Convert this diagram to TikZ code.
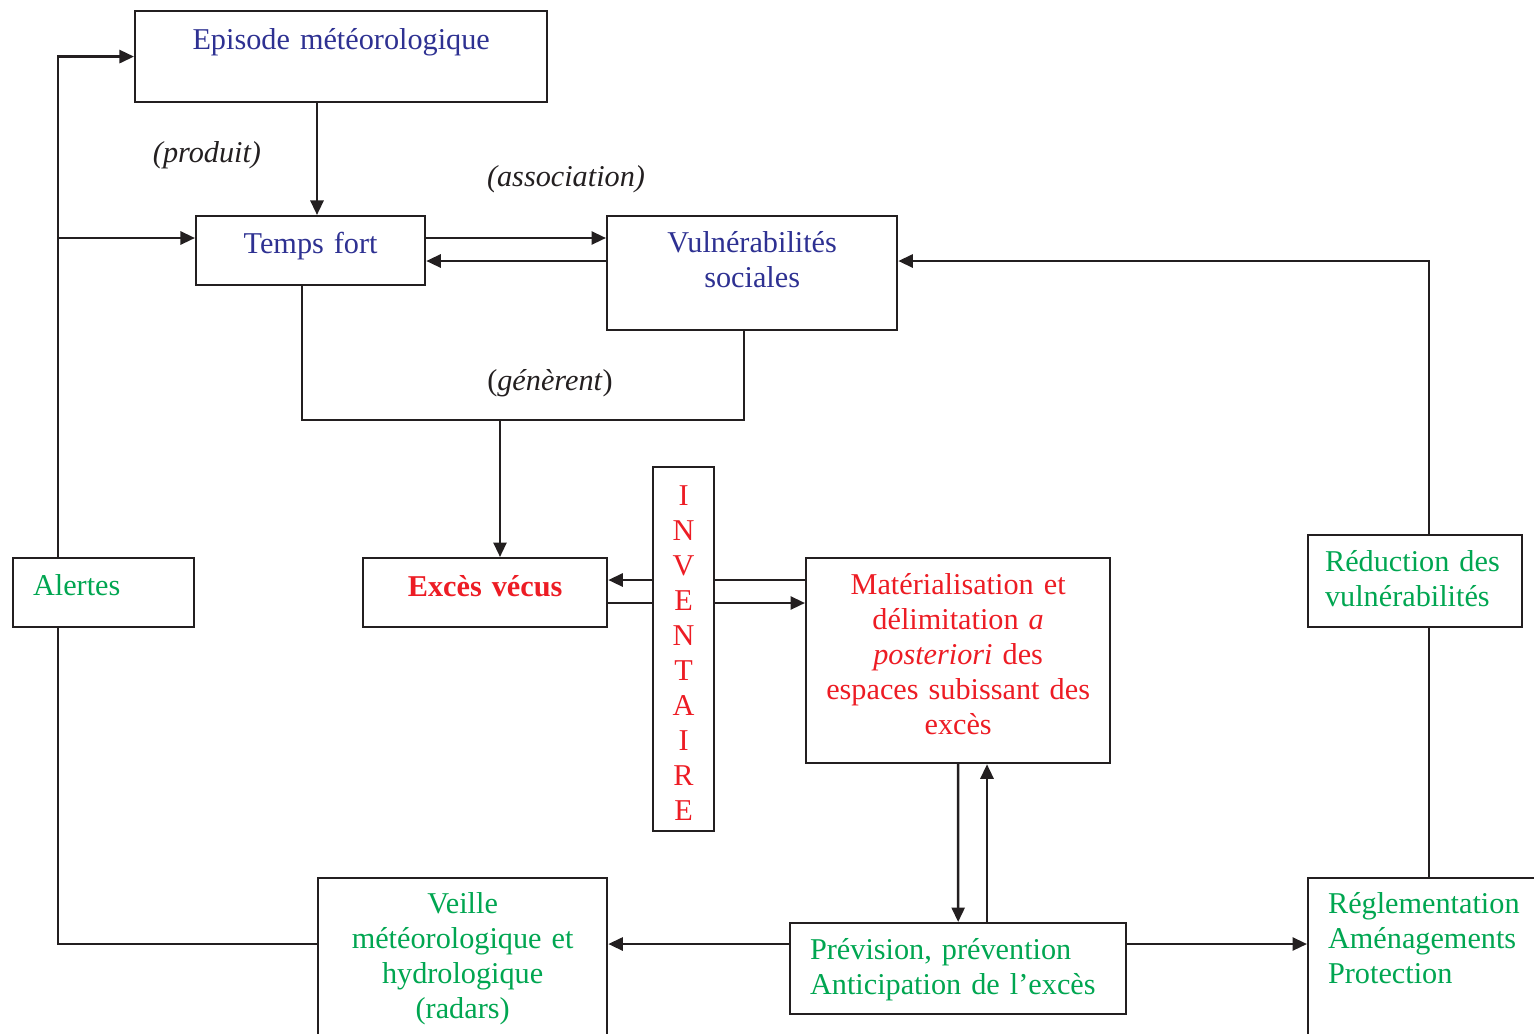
\documentclass[tikz,border=0pt]{standalone}
\usepackage{fontspec}
\setmainfont{Liberation Serif}
\usetikzlibrary{arrows.meta}
\definecolor{lin}{RGB}{35,31,32}
\definecolor{bleu}{RGB}{46,49,146}
\definecolor{rouge}{RGB}{237,28,36}
\definecolor{vert}{RGB}{0,166,81}
\tikzset{
  box/.style={draw=lin, line width=0.6pt, fill=white, inner ysep=0pt, inner xsep=0pt,
    anchor=north west, align=center, font=\fontsize{8.6}{9.96}\selectfont},
  boxl/.style={box, inner xsep=0.2cm, align=left},
  lbl/.style={font=\fontsize{8.6}{9.96}\selectfont\itshape, text=lin}
}
\begin{document}
\begin{tikzpicture}[x=0.01cm,y=-0.01cm,>={Stealth[length=1.45mm,width=1.3mm,inset=0pt]},
  color=lin, line width=0.75pt]
\useasboundingbox (0,0) rectangle (1534,1033);
\clip (0,0) rectangle (1534,1033);
% boites
\node[box, text=bleu, text width=4.12cm, text height=0.38cm, text depth=0.53cm] (epi) at (134,10) {Episode météorologique};
\node[box, text=bleu, text width=2.29cm, text height=0.37cm, text depth=0.32cm] (tf) at (195,215) {Temps fort};
\node[box, text=bleu, text width=2.90cm, text height=0.36cm, text depth=0.78cm] (vul) at (606,215) {Vulnérabilités\\sociales};
\node[boxl, text=vert, text width=1.41cm, text height=0.37cm, text depth=0.32cm] (ale) at (12,557) {Alertes};
\node[box, text=rouge, text width=2.44cm, text height=0.38cm, text depth=0.31cm] (exc) at (362,557) {\textbf{Excès vécus}};
\node[box, text=rouge, text width=3.04cm, text height=0.36cm, text depth=1.69cm] (mat) at (805,557) {Matérialisation et\\délimitation \textit{a}\\\textit{posteriori} des\\espaces subissant des\\excès};
\node[boxl, text=vert, text width=2.96cm, text height=0.36cm, text depth=0.55cm] (prv) at (789,922) {Prévision, prévention\\Anticipation de l’excès};
\node[box, text=vert, text width=2.89cm, text height=0.35cm, text depth=1.80cm] (vei) at (317,877) {Veille\\météorologique et\\hydrologique\\(radars)};
\node[boxl, text=vert, text width=2.20cm, text height=0.35cm, text depth=1.80cm] (reg) at (1307,877) {Réglementation\\Aménagements\\Protection};
\node[boxl, inner xsep=0.17cm, text=vert, text width=1.80cm, text height=0.36cm, text depth=0.56cm] (red) at (1307,534) {Réduction des\\vulnérabilités};
% etiquettes
\node[lbl] (lp) at (207,155) {(produit)};
\node[lbl] (la) at (566,179) {(association)};
\node[lbl, font=\fontsize{8.6}{9.96}\selectfont] (lg) at (550,383) {(\textit{génèrent})};
% reperes
\coordinate (xl) at (58,0);
\coordinate (xa) at (317,0);
\coordinate (xg) at (302,0);
\coordinate (xv) at (744,0);
\coordinate (xe) at (500,0);
\coordinate (xu) at (987,0);
\coordinate (xr) at (1429,0);
\coordinate (ya) at (0,238);
\coordinate (yb) at (0,261);
\coordinate (yg) at (0,420);
\coordinate (yi) at (0,580);
\coordinate (yo) at (0,603);
\coordinate (yp) at (0,944);
% liaisons
\draw[->] (xa |- epi.south) -- (xa |- tf.north);
\draw[->] (tf.east |- ya) -- (vul.west |- ya);
\draw[->] (vul.west |- yb) -- (tf.east |- yb);
\draw[->] (xl |- ale.north) |- (epi.west);
\draw[->] (xl |- ya) -- (tf.west |- ya);
\draw (xl |- ale.south) |- (vei.west |- yp);
\draw (xg |- tf.south) |- (xv |- yg) -- (xv |- vul.south);
\draw[->] (xe |- yg) -- (xe |- exc.north);
\draw[->] (mat.west |- yi) -- (exc.east |- yi);
\draw[->] (exc.east |- yo) -- (mat.west |- yo);
\draw[->] (mat.south) -- (prv.north);
\draw[->] (xu |- prv.north) -- (xu |- mat.south);
\draw[->] (prv.west |- yp) -- (vei.east |- yp);
\draw[->] (prv.east |- yp) -- (reg.west |- yp);
\draw (xr |- reg.north) -- (xr |- red.south);
\draw[->] (xr |- red.north) |- (vul.east |- yb);
% inventaire
\node[box, text=rouge, text width=0.61cm, text height=0.38cm, text depth=3.26cm] (inv) at (652,466) {I\\N\\V\\E\\N\\T\\A\\I\\R\\E};
\end{tikzpicture}
\end{document}
